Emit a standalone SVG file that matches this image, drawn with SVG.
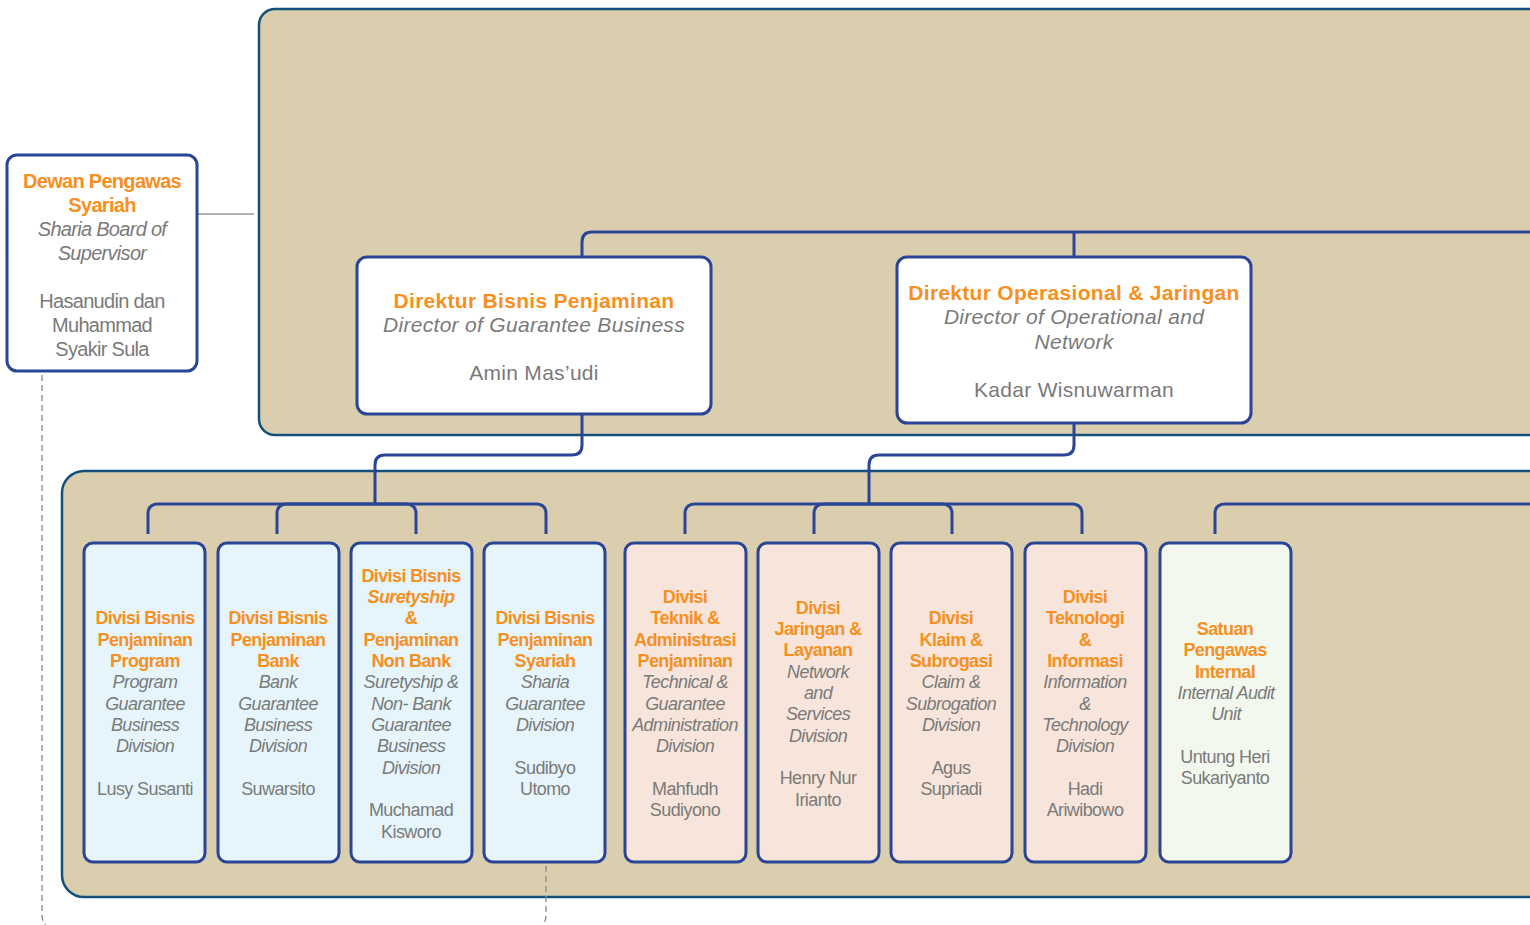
<svg xmlns="http://www.w3.org/2000/svg" width="1530" height="925" viewBox="0 0 1530 925">
<style>
.panel{fill:#DBCEAE;stroke:#13507A;stroke-width:2.5}
.box{stroke:#2A4595;stroke-width:3}
.w{fill:#FFFFFF}
.b{fill:#E5F5FB}
.p{fill:#F7E5DB}
.g{fill:#F3F8EF}
.conn{fill:none;stroke:#2A4595;stroke-width:3}
.thin{fill:none;stroke:#666;stroke-width:1.2}
.dash{fill:none;stroke:#888;stroke-width:1.3;stroke-dasharray:6 4}
text{font-family:"Liberation Sans",Arial,sans-serif;text-anchor:middle}
.t{fill:#F7901E;font-weight:bold}
.s{fill:#7A7A7A;font-style:italic}
.n{fill:#7A7A7A}
.d text{font-size:18px;letter-spacing:-0.6px}
.dir text{font-size:21px;letter-spacing:0.3px}
</style>
<rect class="panel" x="259" y="9" width="1300" height="426" rx="16"/>
<rect class="panel" x="62" y="471" width="1500" height="426" rx="22"/>
<g id="connectors">
<path class="thin" d="M197 214H254"/>
<path class="dash" d="M42 375V916Q42 922 48 928"/>
<path class="dash" d="M546 866V916Q546 922 540 928"/>
<path class="conn" d="M582 257V242Q582 232 592 232H1535"/>
<path class="conn" d="M1074 232V257"/>
<path class="conn" d="M582 414V445Q582 455 572 455H385Q375 455 375 465V504"/>
<path class="conn" d="M148 534V514Q148 504 158 504H536Q546 504 546 514V534"/>
<path class="conn" d="M277 534V514Q277 504 287 504H406Q416 504 416 514V534"/>
<path class="conn" d="M1074 423V445Q1074 455 1064 455H879Q869 455 869 465V504"/>
<path class="conn" d="M685 534V514Q685 504 695 504H1072Q1082 504 1082 514V534"/>
<path class="conn" d="M814 534V514Q814 504 824 504H942Q952 504 952 514V534"/>
<path class="conn" d="M1215 534V514Q1215 504 1225 504H1535"/>
</g>
<g id="dewan">
<rect class="box w" x="7" y="155" width="190" height="216" rx="10"/>
<g font-size="20" letter-spacing="-0.7">
<text class="t" x="102" y="188">Dewan Pengawas</text>
<text class="t" x="102" y="212">Syariah</text>
<text class="s" x="102" y="236">Sharia Board of</text>
<text class="s" x="102" y="260">Supervisor</text>
<text class="n" x="102" y="308">Hasanudin dan</text>
<text class="n" x="102" y="332">Muhammad</text>
<text class="n" x="102" y="356">Syakir Sula</text>
</g>
</g>
<g id="dir-bisnis" class="dir">
<rect class="box w" x="357" y="257" width="354" height="157" rx="10"/>
<text class="t" x="534" y="308">Direktur Bisnis Penjaminan</text>
<text class="s" x="534" y="332">Director of Guarantee Business</text>
<text class="n" x="534" y="380">Amin Mas’udi</text>
</g>
<g id="dir-operasional" class="dir">
<rect class="box w" x="897" y="257" width="354" height="166" rx="10"/>
<text class="t" x="1074" y="300">Direktur Operasional &amp; Jaringan</text>
<text class="s" x="1074" y="324">Director of Operational and</text>
<text class="s" x="1074" y="349">Network</text>
<text class="n" x="1074" y="397">Kadar Wisnuwarman</text>
</g>
<g id="div-program" class="d">
<rect class="box b" x="84" y="543" width="121" height="319" rx="9"/>
<text class="t" x="145" y="624">Divisi Bisnis</text>
<text class="t" x="145" y="646">Penjaminan</text>
<text class="t" x="145" y="667">Program</text>
<text class="s" x="145" y="688">Program</text>
<text class="s" x="145" y="710">Guarantee</text>
<text class="s" x="145" y="731">Business</text>
<text class="s" x="145" y="752">Division</text>
<text class="n" x="145" y="795">Lusy Susanti</text>
</g>
<g id="div-bank" class="d">
<rect class="box b" x="218" y="543" width="121" height="319" rx="9"/>
<text class="t" x="278" y="624">Divisi Bisnis</text>
<text class="t" x="278" y="646">Penjaminan</text>
<text class="t" x="278" y="667">Bank</text>
<text class="s" x="278" y="688">Bank</text>
<text class="s" x="278" y="710">Guarantee</text>
<text class="s" x="278" y="731">Business</text>
<text class="s" x="278" y="752">Division</text>
<text class="n" x="278" y="795">Suwarsito</text>
</g>
<g id="div-suretyship" class="d">
<rect class="box b" x="351" y="543" width="121" height="319" rx="9"/>
<text class="t" x="411" y="582">Divisi Bisnis</text>
<text class="t" x="411" y="603" font-style="italic">Suretyship</text>
<text class="t" x="411" y="624">&amp;</text>
<text class="t" x="411" y="646">Penjaminan</text>
<text class="t" x="411" y="667">Non Bank</text>
<text class="s" x="411" y="688">Suretyship &amp;</text>
<text class="s" x="411" y="710">Non- Bank</text>
<text class="s" x="411" y="731">Guarantee</text>
<text class="s" x="411" y="752">Business</text>
<text class="s" x="411" y="774">Division</text>
<text class="n" x="411" y="816">Muchamad</text>
<text class="n" x="411" y="838">Kisworo</text>
</g>
<g id="div-syariah" class="d">
<rect class="box b" x="484" y="543" width="121" height="319" rx="9"/>
<text class="t" x="545" y="624">Divisi Bisnis</text>
<text class="t" x="545" y="646">Penjaminan</text>
<text class="t" x="545" y="667">Syariah</text>
<text class="s" x="545" y="688">Sharia</text>
<text class="s" x="545" y="710">Guarantee</text>
<text class="s" x="545" y="731">Division</text>
<text class="n" x="545" y="774">Sudibyo</text>
<text class="n" x="545" y="795">Utomo</text>
</g>
<g id="div-teknik" class="d">
<rect class="box p" x="625" y="543" width="121" height="319" rx="9"/>
<g letter-spacing="-1.3">
<text class="t" x="685" y="603">Divisi</text>
<text class="t" x="685" y="624">Teknik &amp;</text>
<text class="t" x="685" y="646">Administrasi</text>
<text class="t" x="685" y="667">Penjaminan</text>
<text class="s" x="685" y="688">Technical &amp;</text>
<text class="s" x="685" y="710">Guarantee</text>
<text class="s" x="685" y="731">Administration</text>
<text class="s" x="685" y="752">Division</text>
<text class="n" x="685" y="795">Mahfudh</text>
<text class="n" x="685" y="816">Sudiyono</text>
</g>
</g>
<g id="div-jaringan" class="d">
<rect class="box p" x="758" y="543" width="121" height="319" rx="9"/>
<text class="t" x="818" y="614">Divisi</text>
<text class="t" x="818" y="635">Jaringan &amp;</text>
<text class="t" x="818" y="656">Layanan</text>
<text class="s" x="818" y="678">Network</text>
<text class="s" x="818" y="699">and</text>
<text class="s" x="818" y="720">Services</text>
<text class="s" x="818" y="742">Division</text>
<text class="n" x="818" y="784">Henry Nur</text>
<text class="n" x="818" y="806">Irianto</text>
</g>
<g id="div-klaim" class="d">
<rect class="box p" x="891" y="543" width="121" height="319" rx="9"/>
<text class="t" x="951" y="624">Divisi</text>
<text class="t" x="951" y="646">Klaim &amp;</text>
<text class="t" x="951" y="667">Subrogasi</text>
<text class="s" x="951" y="688">Claim &amp;</text>
<text class="s" x="951" y="710">Subrogation</text>
<text class="s" x="951" y="731">Division</text>
<text class="n" x="951" y="774">Agus</text>
<text class="n" x="951" y="795">Supriadi</text>
</g>
<g id="div-ti" class="d">
<rect class="box p" x="1025" y="543" width="121" height="319" rx="9"/>
<text class="t" x="1085" y="603">Divisi</text>
<text class="t" x="1085" y="624">Teknologi</text>
<text class="t" x="1085" y="646">&amp;</text>
<text class="t" x="1085" y="667">Informasi</text>
<text class="s" x="1085" y="688">Information</text>
<text class="s" x="1085" y="710">&amp;</text>
<text class="s" x="1085" y="731">Technology</text>
<text class="s" x="1085" y="752">Division</text>
<text class="n" x="1085" y="795">Hadi</text>
<text class="n" x="1085" y="816">Ariwibowo</text>
</g>
<g id="spi" class="d">
<rect class="box g" x="1160" y="543" width="131" height="319" rx="9"/>
<text class="t" x="1225" y="635">Satuan</text>
<text class="t" x="1225" y="656">Pengawas</text>
<text class="t" x="1225" y="678">Internal</text>
<text class="s" x="1226" y="699">Internal Audit</text>
<text class="s" x="1226" y="720">Unit</text>
<text class="n" x="1225" y="763">Untung Heri</text>
<text class="n" x="1225" y="784">Sukariyanto</text>
</g>
</svg>
